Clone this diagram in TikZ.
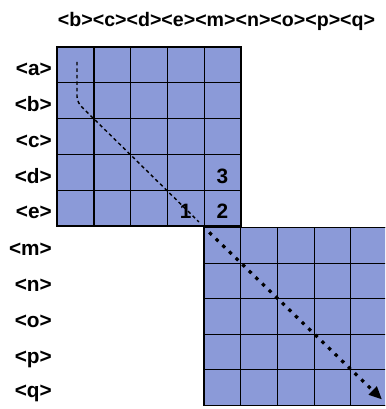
\documentclass[tikz,border=0pt]{standalone}
\usepackage{fontspec}
\setmainfont{Liberation Sans}
\usetikzlibrary{arrows.meta}
\definecolor{cellblue}{RGB}{139,154,216}

\begin{document}
\begin{tikzpicture}[x=1pt,y=1pt,
  lbl/.style={font=\fontsize{20.8}{24}\selectfont\bfseries,inner sep=0pt,anchor=base east},
  num/.style={font=\fontsize{20.8}{24}\selectfont\bfseries,inner sep=0pt,anchor=base},
  gridline/.style={line width=1.1pt},
  frame/.style={line width=1.8pt},
  thindash/.style={line width=1.4pt,dash pattern=on 3.5pt off 3pt},
  thickdot/.style={line width=3.2pt,dash pattern=on 3.4pt off 5.8pt,-{Triangle[length=13pt,width=11pt]}}]
  \clip (0,0) rectangle (385,409);
  \node[num,font=\fontsize{19.6}{24}\selectfont\bfseries] (top) at (216.5,382.3){<b><c><d><e><m><n><o><p><q>};
  % row labels
  \node[lbl] (ra) at (52,333.7){<a>};
  \node[lbl] (rb) at (52,297.7){<b>};
  \node[lbl] (rc) at (52,261.7){<c>};
  \node[lbl] (rd) at (52,225.7){<d>};
  \node[lbl] (re) at (52,190.7){<e>};
  \node[lbl] (rm) at (52,153.7){<m>};
  \node[lbl] (rn) at (52,117.7){<n>};
  \node[lbl] (ro) at (52,81.7){<o>};
  \node[lbl] (rp) at (52,45.7){<p>};
  \node[lbl] (rq) at (52,11){<q>};
  % upper block
  \fill[cellblue] (57.3,183) rectangle (240.8,362.3);
  \begin{scope}[shift={(57.3,183)}]
    \draw[gridline] (0,0) grid[xstep=36.7,ystep=35.86] (183.5,179.3);
  \end{scope}
  \draw[frame] (57.3,183) rectangle (240.8,362.3);
  % lower block
  \fill[cellblue] (204,3.5) rectangle (387.5,181.5);
  \begin{scope}[shift={(204,3.5)}]
    \draw[gridline] (0,0) grid[xstep=36.7,ystep=35.6] (183.5,178);
  \end{scope}
  \draw[frame] (204,3.5) rectangle (387.5,181.5);
  % cell numbers
  \node[num] (one) at (185.75,190.7){1};
  \node[num] (two) at (222.45,190.7){2};
  \node[num] (three) at (222.45,225.7){3};
  % path through the blocks
  \coordinate (pstart) at (77,347);
  \coordinate (pbend) at (77,306.7);
  \coordinate (pend) at (199,187);
  \coordinate (qstart) at (209.3,176.6);
  \coordinate (qend) at (382,9.5);
  \draw[thindash,rounded corners=6pt] (pstart) -- (pbend) -- (pend);
  \draw[thickdot] (qstart) -- (qend);
\end{tikzpicture}
\end{document}
